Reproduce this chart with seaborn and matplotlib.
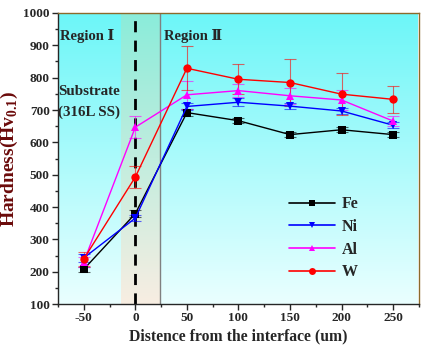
import numpy as np
import pandas as pd
import seaborn as sns
import matplotlib.pyplot as plt
from matplotlib.lines import Line2D
from matplotlib.colors import LinearSegmentedColormap

# distance from the interface (um)
distance = [-50, 0, 50, 100, 150, 200, 250]

# hardness values
fe = [208, 380, 692, 667, 624, 639, 624]
ni = [243, 366, 711, 724, 712, 697, 653]
al = [231, 647, 747, 760, 744, 731, 666]
w = [240, 493, 829, 795, 785, 749, 733]

fe_err = [8, 12, 10, 8, 8, 8, 8]
ni_err = [12, 10, 10, 12, 10, 10, 10]
al_err = [15, 33, 44, 20, 25, 30, 15]
w_err = [22, 35, 68, 46, 72, 65, 42]

elements = ["Fe", "Ni", "Al", "W"]
colors = ["black", "#0000FF", "#FF00FF", "#FF0000"]
markers = ["s", "v", "^", "o"]

df = pd.DataFrame({
    "distance": distance * 4,
    "hardness": fe + ni + al + w,
    "element": sum([[e] * len(distance) for e in elements], []),
})
errs = dict(zip(elements, [fe_err, ni_err, al_err, w_err]))

sns.set_style("ticks")
plt.rcParams["font.family"] = ["Liberation Serif", "DejaVu Serif"]
plt.rcParams["font.weight"] = "bold"
plt.rcParams["axes.unicode_minus"] = False
plt.rcParams["mathtext.fontset"] = "custom"
plt.rcParams["mathtext.rm"] = "Liberation Serif:bold"
plt.rcParams["mathtext.bf"] = "Liberation Serif:bold"

fig = plt.figure(figsize=(4.3, 3.5), dpi=100)
ax = fig.add_axes([0.135, 0.131, 0.839, 0.832])
xmin, xmax, ymin, ymax = -75, 274, 100, 1000

# background gradient (cyan to near white)
grad = np.linspace(0, 1, 256).reshape(-1, 1)
bg = LinearSegmentedColormap.from_list("bg", ["#EAFFFF", "#6CF6F8"])
ax.imshow(grad, aspect="auto", cmap=bg, origin="lower",
          extent=[xmin, xmax, ymin, ymax], zorder=0)
# interface zone gradient (green to tan)
zone = LinearSegmentedColormap.from_list("zone", ["#F8EEE2", "#8AECDA"])
ax.imshow(grad, aspect="auto", cmap=zone, origin="lower",
          extent=[-14, 24, ymin, ymax], zorder=0.5)
ax.axvline(24, color="#808080", lw=1, zorder=1)
ax.axvline(0, color="black", lw=2, ls=(0, (4, 3)), zorder=1.5)

for el, c in zip(elements, colors):
    sub = df[df["element"] == el]
    ax.errorbar(sub["distance"], sub["hardness"], yerr=errs[el], fmt="none",
                ecolor=c, elinewidth=0.8, capsize=4, capthick=0.8, alpha=0.6, zorder=2)

sns.lineplot(data=df, x="distance", y="hardness", hue="element", style="element",
             hue_order=elements, style_order=elements, palette=colors,
             markers=markers, dashes=False, markersize=6, markeredgewidth=0,
             linewidth=1, ax=ax, legend=False, zorder=3)

ax.set_xlim(xmin, xmax)
ax.set_ylim(ymin, ymax)
ax.set_xticks([-50, 0, 50, 100, 150, 200, 250])
ax.set_xticks([-75, -25, 25, 75, 125, 175, 225, 275], minor=True)
ax.set_yticks(range(100, 1001, 100))
ax.set_yticks(range(150, 1000, 100), minor=True)
ax.tick_params(axis="both", which="major", direction="out", length=4, width=1,
               labelsize=9.5, pad=2)
ax.tick_params(axis="both", which="minor", direction="out", length=2, width=1)
for lab in ax.get_xticklabels() + ax.get_yticklabels():
    lab.set_fontweight("bold")

for s in ["top", "right"]:
    ax.spines[s].set_color("#8B6A2B")
for s in ax.spines.values():
    s.set_linewidth(1)

ax.set_xlabel("Distence from the interface (um)", fontsize=11.3, fontweight="bold", labelpad=3)
ax.set_ylabel("Hardness(Hv$_{0.1}$)", fontsize=14, fontweight="bold",
              color="#6B0A0A", labelpad=2)

ax.text(-73, 930, "Region Ⅰ", fontsize=10.5, fontweight="bold", va="center")
ax.text(28, 928, "Region Ⅱ", fontsize=10.5, fontweight="bold", va="center")
ax.text(-75, 758, "Substrate", fontsize=10.8, fontweight="bold", va="center")
ax.text(-75, 694, "(316L SS)", fontsize=10.8, fontweight="bold", va="center")

handles = [Line2D([], [], color=c, marker=m, markersize=5, lw=1.2, markeredgewidth=0)
           for c, m in zip(colors, markers)]
ax.legend(handles, elements, loc="upper left", bbox_to_anchor=(0.6, 0.42),
          frameon=False, handlelength=2.9, labelspacing=0.42,
          handletextpad=0.4, prop={"weight": "bold", "size": 11.5})

fig.savefig("out.png", dpi=100)
